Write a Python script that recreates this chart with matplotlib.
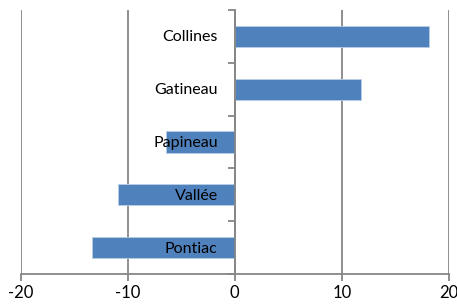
import numpy as np
import matplotlib.pyplot as plt
from matplotlib.transforms import offset_copy

regions = ['Pontiac', 'Vallée', 'Papineau', 'Gatineau', 'Collines']
values = [-13.3, -10.9, -6.4, 11.8, 18.1]
xticks = [-20, -10, 0, 10, 20]

plt.rcParams['font.family'] = ['Lato', 'DejaVu Sans']

fig = plt.figure(figsize=(4.57, 3.06), dpi=100)
ax = fig.add_axes([20.5/457, 1 - 274/306, (449 - 20.5)/457, 264/306])

grey = '#868686'
pos = np.arange(len(regions))
ax.barh(pos, values, height=0.4, color='#4F81BD', edgecolor='#B9CDE5',
        linewidth=0.6, zorder=1)

ax.set_xlim(-20, 20)
ax.set_ylim(-0.5, len(regions) - 0.5)
ax.set_xticks(xticks)
ax.set_xticklabels([str(v) for v in xticks])
ax.set_axisbelow(True)
ax.xaxis.grid(True, color=grey, linewidth=1.3)

for s in ['top', 'right']:
    ax.spines[s].set_visible(False)
ax.spines['left'].set_position(('data', 0))
for s in ['left', 'bottom']:
    ax.spines[s].set_color(grey)
    ax.spines[s].set_linewidth(1.3)

# category labels sit left of the zero axis, drawn over the bars
ax.set_yticks(np.arange(len(regions) + 1) - 0.5)
ax.set_yticklabels([])
ax.tick_params(axis='y', length=5, width=1.3, color=grey)
ax.tick_params(axis='x', length=5, width=1.3, color=grey, labelsize=12, pad=3)

trans = offset_copy(ax.transData, fig=fig, x=-17, y=-1, units='dots')
for p, name in zip(pos, regions):
    ax.text(0, p, name, transform=trans, ha='right', va='center',
            fontsize=11.5, zorder=5)

fig.savefig('out.png', dpi=100)
